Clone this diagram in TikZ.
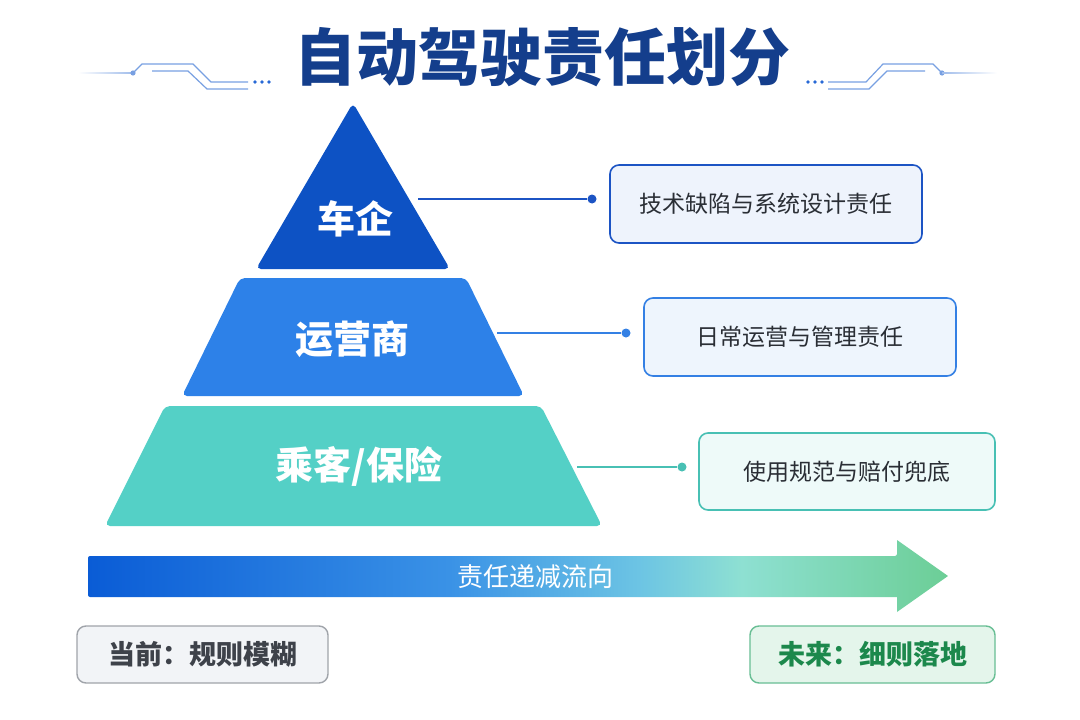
\documentclass[tikz,border=0pt]{standalone}
\usepackage{fontspec}
\setmainfont{Noto Sans CJK SC}
\definecolor{titleblue}{RGB}{20,62,140}
\definecolor{deco}{RGB}{120,160,226}
\definecolor{decodot}{RGB}{40,105,214}
\definecolor{lay1}{RGB}{13,82,196}
\definecolor{lay2}{RGB}{45,129,232}
\definecolor{lay3}{RGB}{84,208,198}
\definecolor{c1}{RGB}{28,84,196}
\definecolor{c2}{RGB}{52,128,228}
\definecolor{c3}{RGB}{72,192,180}
\definecolor{f1}{RGB}{238,243,252}
\definecolor{f2}{RGB}{238,245,253}
\definecolor{f3}{RGB}{238,250,249}
\definecolor{boxtext}{RGB}{42,46,53}
\definecolor{a1}{RGB}{10,92,214}
\definecolor{a2}{RGB}{58,146,230}
\definecolor{a3}{RGB}{108,196,228}
\definecolor{a4}{RGB}{142,224,210}
\definecolor{a5}{RGB}{108,206,150}
\definecolor{nowfill}{RGB}{242,244,247}
\definecolor{nowdraw}{RGB}{160,164,170}
\definecolor{nowtext}{RGB}{62,66,74}
\definecolor{futfill}{RGB}{228,245,235}
\definecolor{futdraw}{RGB}{104,190,148}
\definecolor{futtext}{RGB}{28,136,76}
\pgfdeclarehorizontalshading{flow}{100bp}{color(0bp)=(a1); color(25bp)=(a1); color(46bp)=(a2); color(57bp)=(a3); color(63bp)=(a4); color(75bp)=(a5); color(100bp)=(a5)}
\begin{document}
\begin{tikzpicture}[x=1pt,y=-1pt,
  laytext/.style={text=white, font=\fontsize{38}{44}\selectfont\bfseries},
  dotnode/.style={circle, inner sep=0pt, minimum size=9pt},
  conn/.style={line width=1.4pt},
  rbox/.style={rounded corners=9pt, line width=1.6pt, text=boxtext, font=\fontsize{23}{28}\selectfont, minimum height=78pt},
  bbox/.style={rounded corners=9pt, line width=1.4pt, font=\fontsize{27}{32}\selectfont\bfseries, minimum height=57pt},
  decoline/.style={deco, line width=1.2pt}
]
\useasboundingbox (0,0) rectangle (1080,720);
\fill[white] (0,0) rectangle (1080,720);

% title
\node[font=\fontsize{62}{70}\selectfont\bfseries, text=titleblue] (title) at (542,57) {自动驾驶责任划分};

% left decoration
\shade[left color=white, right color=deco!70] (78,72.4) rectangle (133,73.6);
\fill[deco] (133,73) circle (2.6);
\draw[decoline] (133,73) -- (142,64) -- (193,64) -- (211,82) -- (248,82);
\draw[decoline] (152,71) -- (188,71) -- (207,89) -- (248,89);
\fill[decodot] (255,82) circle (1.9) (262,82) circle (1.9) (269,82) circle (1.9);
% right decoration
\fill[decodot] (808,82) circle (1.9) (815,82) circle (1.9) (822,82) circle (1.9);
\draw[decoline] (828,82) -- (866,82) -- (883,64) -- (933,64) -- (942,73);
\draw[decoline] (828,89) -- (869,89) -- (887,71) -- (925,71);
\fill[deco] (942,73) circle (2.6);
\shade[left color=deco!70, right color=white] (942,72.4) rectangle (997,73.6);

% pyramid
\fill[lay1, rounded corners=5pt] (353,103) -- (450,269) -- (256,269) -- cycle;
\fill[lay2, rounded corners=5pt] (240,278) -- (466,278) -- (524,396) -- (182,396) -- cycle;
\fill[lay3, rounded corners=5pt] (165,406) -- (541,406) -- (602,526) -- (105,526) -- cycle;
\node[laytext] (l1) at (355,219) {车企};
\node[laytext] (l2) at (352,339) {运营商};
\node[laytext] (l3) at (359,466) {乘客/保险};

% connectors and boxes
\coordinate (s1) at (418,199);
\node[dotnode, fill=c1] (d1) at (592,199) {};
\draw[conn, c1] (s1) -- (d1);
\node[rbox, draw=c1, fill=f1, minimum width=312pt] (b1) at (766,204) {技术缺陷与系统设计责任};

\coordinate (s2) at (497,333);
\node[dotnode, fill=c2] (d2) at (626,333) {};
\draw[conn, c2] (s2) -- (d2);
\node[rbox, draw=c2, fill=f2, minimum width=312pt] (b2) at (800,337) {日常运营与管理责任};

\coordinate (s3) at (577,467);
\node[dotnode, fill=c3] (d3) at (682,467) {};
\draw[conn, c3] (s3) -- (d3);
\node[rbox, draw=c3, fill=f3, minimum width=296pt, minimum height=77pt] (b3) at (847,471.5) {使用规范与赔付兜底};

% flow arrow
\shade[shading=flow, rounded corners=2pt] (88,556) -- (897,556) [sharp corners] -- (897,540) -- (948,576) -- (897,612) -- (897,597) [rounded corners=2pt] -- (88,597) -- cycle;
\node[font=\fontsize{26}{30}\selectfont, text=white] (flowlabel) at (535,577) {责任递减流向};

% bottom boxes
\node[bbox, draw=nowdraw, fill=nowfill, text=nowtext, minimum width=251pt] (now) at (202.5,654.5) {当前：规则模糊};
\node[bbox, draw=futdraw, fill=futfill, text=futtext, minimum width=245pt] (future) at (872.5,654.5) {未来：细则落地};
\end{tikzpicture}
\end{document}
